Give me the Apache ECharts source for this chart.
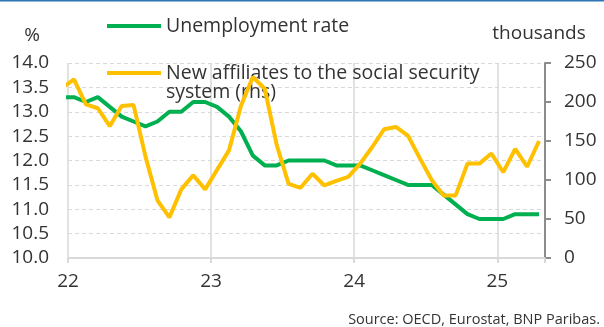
<!DOCTYPE html>
<html>
<head>
<meta charset="utf-8">
<script src="https://cdn.jsdelivr.net/npm/echarts@6/dist/echarts.min.js"></script>
<style>html,body{margin:0;padding:0;background:#fff;}#c{width:604px;height:327px;}</style>
</head>
<body>
<div id="c"></div>
<script>
// Months (Dec 2021 .. Apr 2025)
const months = ["2021-12",
 "2022-01","2022-02","2022-03","2022-04","2022-05","2022-06","2022-07","2022-08","2022-09","2022-10","2022-11","2022-12",
 "2023-01","2023-02","2023-03","2023-04","2023-05","2023-06","2023-07","2023-08","2023-09","2023-10","2023-11","2023-12",
 "2024-01","2024-02","2024-03","2024-04","2024-05","2024-06","2024-07","2024-08","2024-09","2024-10","2024-11","2024-12",
 "2025-01","2025-02","2025-03","2025-04"];
// Unemployment rate, %
const unemployment = [13.3,
 13.3,13.2,13.3,13.1,12.9,12.8,12.7,12.8,13.0,13.0,13.2,13.2,
 13.1,12.9,12.6,12.1,11.9,11.9,12.0,12.0,12.0,12.0,11.9,11.9,
 11.9,11.8,11.7,11.6,11.5,11.5,11.5,11.3,11.1,10.9,10.8,10.8,
 10.8,10.9,10.9,10.9];
// New affiliates to the social security system, thousands (rhs)
const affiliates = [218,
 229,197,192,169,195,196,130,74,52,88,106,88,
 113,138,195,232,217,145,95,90,108,93,99,104,
 121,142,165,168,157,128,100,80,80,121,121,134,
 110,140,117,150];
const yearLabels = ["22","23","24","25"];
const leftTicks = {min:10, max:14, interval:0.5};
const rightTicks = {min:0, max:250, interval:50};
const seriesNames = ['Unemployment rate', 'New affiliates to the social security system (rhs)'];
const legendLines = [['Unemployment rate'], ['New affiliates to the social security', 'system (rhs)']];

const FONT = "Open Sans";
const TXT = "#333333";
const FS = 19;
function pos(m){ const [y,mo]=m.split("-").map(Number); return (y-2022)*12+(mo-1)+0.5; }
const gData = months.map((m,i)=>[pos(m), unemployment[i]]);
const oData = months.map((m,i)=>[pos(m), affiliates[i]]);

const chart = echarts.init(document.getElementById('c'), null, {renderer:'canvas'});
const legendText = {fontFamily:FONT, fontSize:19.5, color:TXT, lineHeight:24};
chart.setOption({
  animation:false,
  textStyle:{fontFamily:FONT},
  grid:{left:68, right:59, top:63, bottom:69, containLabel:false},
  legend:[
    {data:[seriesNames[0]], left:107, top:14, padding:0, z:1, orient:'vertical', itemWidth:54, itemHeight:4, itemGap:0,
     icon:'rect', formatter:()=>legendLines[0][0], textStyle:legendText, selectedMode:false},
    {data:[seriesNames[1]], left:107, top:61, padding:0, z:1, orient:'vertical', itemWidth:54, itemHeight:4, itemGap:0,
     icon:'rect', formatter:()=>legendLines[1][0], textStyle:legendText, selectedMode:false}
  ],
  xAxis:{type:'value', min:0, max:40, interval:12,
    axisLine:{show:true, lineStyle:{color:'#d9d9d9', width:2}},
    axisTick:{show:true, length:5, lineStyle:{color:'#d9d9d9', width:2}},
    axisLabel:{fontFamily:FONT, fontSize:FS, color:TXT, margin:14,
      formatter:v=> (v%12===0 ? yearLabels[v/12] : '')},
    splitLine:{show:true, lineStyle:{color:'#d9d9d9', width:1.5}}},
  yAxis:[
    {type:'value', min:leftTicks.min, max:leftTicks.max, interval:leftTicks.interval, position:'left',
     name:'%', nameLocation:'end', nameGap:18,
     nameTextStyle:{fontFamily:FONT, fontSize:FS, color:TXT, align:'center', padding:[0,72,0,0]},
     axisLine:{show:false}, axisTick:{show:false},
     axisLabel:{fontFamily:FONT, fontSize:FS, color:TXT, margin:19, formatter:v=>v.toFixed(1)},
     splitLine:{show:true, lineStyle:{color:'#d9d9d9', type:[4,3], width:1}}},
    {type:'value', min:rightTicks.min, max:rightTicks.max, interval:rightTicks.interval, position:'right',
     name:'thousands', nameLocation:'end', nameGap:20,
     nameTextStyle:{fontFamily:FONT, fontSize:FS, color:TXT, align:'center', padding:[0,12,0,0]},
     axisLine:{show:true, lineStyle:{color:'#8c8c8c', width:2}},
     axisTick:{show:true, inside:false, length:6, lineStyle:{color:'#8c8c8c', width:2}},
     axisLabel:{fontFamily:FONT, fontSize:FS, color:TXT, margin:19},
     splitLine:{show:false}}
  ],
  series:[
    {name:seriesNames[0], type:'line', yAxisIndex:0, data:gData, symbol:'none', clip:true,
     lineStyle:{color:'#00b050', width:4}, itemStyle:{color:'#00b050'}, z:3},
    {name:seriesNames[1], type:'line', yAxisIndex:1, data:oData, symbol:'none', clip:true,
     lineStyle:{color:'#ffc000', width:4}, itemStyle:{color:'#ffc000'}, z:4}
  ],
  graphic:[
    {type:'rect', left:0, top:0, shape:{width:604, height:1.5}, style:{fill:'#2e75b6'}},
    {type:'text', left:166, top:82, z:1, style:{text:legendLines[1][1], fontFamily:FONT, fontSize:19.5, fill:TXT}},
    {type:'text', right:4, top:312, style:{text:'Source: OECD, Eurostat, BNP Paribas.', fontFamily:FONT, fontSize:14.5, fill:TXT}}
  ]
});
</script>
</body>
</html>
